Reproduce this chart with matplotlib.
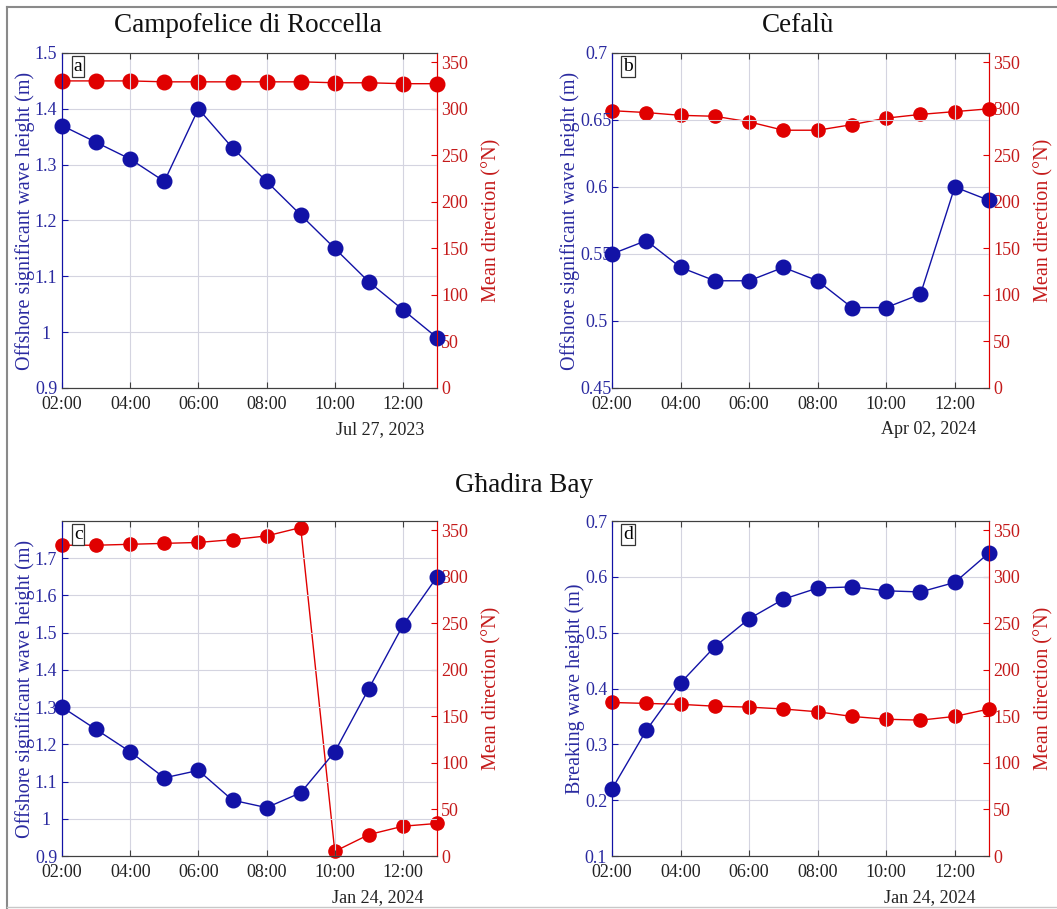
import numpy as np
import pandas as pd
import matplotlib
matplotlib.use("Agg")
import matplotlib.pyplot as plt
import matplotlib.dates as mdates
from matplotlib.lines import Line2D

plt.rcParams['font.family'] = ['Liberation Serif', 'DejaVu Serif']

# hourly time stamps (same for all panels)
hours = ['02:00', '03:00', '04:00', '05:00', '06:00', '07:00',
         '08:00', '09:00', '10:00', '11:00', '12:00', '13:00']

# panel a - Campofelice di Roccella, Jul 27, 2023
date_a = '2023-07-27'
hs_a = [1.37, 1.34, 1.31, 1.27, 1.40, 1.33, 1.27, 1.21, 1.15, 1.09, 1.04, 0.99]
dir_a = [330, 330, 330, 329, 329, 329, 329, 329, 328, 328, 327, 327]

# panel b - Cefalù, Apr 02, 2024
date_b = '2024-04-02'
hs_b = [0.55, 0.56, 0.54, 0.53, 0.53, 0.54, 0.53, 0.51, 0.51, 0.52, 0.60, 0.59]
dir_b = [298, 296, 293, 292, 286, 277, 277, 283, 290, 294, 297, 300]

# panel c - Ghadira Bay offshore, Jan 24, 2024
date_c = '2024-01-24'
hs_c = [1.30, 1.24, 1.18, 1.11, 1.13, 1.05, 1.03, 1.07, 1.18, 1.35, 1.52, 1.65]
dir_c = [334, 334, 335, 336, 337, 340, 344, 353, 5, 23, 32, 35]

# panel d - Ghadira Bay breaking, Jan 24, 2024
date_d = '2024-01-24'
hb_d = [0.22, 0.325, 0.41, 0.475, 0.525, 0.56, 0.58, 0.582, 0.575, 0.573, 0.59, 0.643]
dir_d = [165, 164, 163, 161, 160, 158, 155, 150, 147, 146, 150, 158]

BLUE = '#1212a6'
RED = '#e00000'
BLUE_TXT = '#2a2aa0'
RED_TXT = '#c41a1a'
GRID = '#d4d4e0'
SPINE = '#404040'

fig = plt.figure(figsize=(10.57, 9.09), dpi=100)


def panel(rect, date, hs, dirs, ylim, yticks, ylabel, letter, date_label, red_ms=10):
    t = pd.to_datetime([f'{date} {h}' for h in hours])
    ax = fig.add_axes(rect)
    ax2 = ax.twinx()
    ax.set_zorder(ax2.get_zorder() + 1)
    ax.patch.set_visible(False)

    ax2.plot(t, dirs, '-o', color=RED, mfc=RED, mec=RED, ms=red_ms, lw=1, clip_on=False)
    ax.plot(t, hs, '-o', color=BLUE, mfc=BLUE, mec=BLUE, ms=10.5, lw=1, clip_on=False)

    ax.set_xlim(t[0], t[-1])
    ax.set_ylim(*ylim)
    ax.set_yticks(yticks)
    ax.set_yticklabels([f'{v:g}' for v in yticks])
    ax2.set_ylim(0, 360)
    ax2.set_yticks(range(0, 351, 50))

    ax.xaxis.set_major_locator(mdates.HourLocator(byhour=range(2, 13, 2)))
    ax.xaxis.set_major_formatter(mdates.DateFormatter('%H:%M'))

    ax.grid(True, color=GRID, lw=0.8)
    ax.set_axisbelow(True)

    for a in (ax, ax2):
        a.spines['top'].set_color(SPINE)
        a.spines['bottom'].set_color(SPINE)
        a.spines['left'].set_color(BLUE)
        a.spines['right'].set_color(RED)
    ax.tick_params(axis='x', direction='in', length=4, colors=SPINE,
                   labelcolor='#222222', labelsize=13, pad=6, top=True)
    ax.tick_params(axis='y', direction='in', length=4, colors=BLUE,
                   labelcolor=BLUE_TXT, labelsize=13, pad=11.5)
    for lab in ax.get_yticklabels():
        lab.set_horizontalalignment('center')
    ax2.tick_params(axis='y', direction='in', length=4, colors=RED,
                    labelcolor=RED_TXT, labelsize=13, pad=3)

    ax.set_ylabel(ylabel, color=BLUE_TXT, fontsize=14.5, labelpad=0)
    ax2.set_ylabel('Mean direction (°N)', color=RED_TXT, fontsize=14.5, labelpad=10)

    ax.text(0.043, 0.961, letter, transform=ax.transAxes, fontsize=14,
            va='center', ha='center',
            bbox=dict(boxstyle='square,pad=0.1', fc='white', ec='#333333', lw=0.9))
    ax.text(0.965, -0.1, date_label, transform=ax.transAxes, fontsize=13,
            ha='right', va='top', color='#222222')
    return ax


panel([0.0587, 0.5732, 0.3548, 0.3685], date_a, hs_a, dir_a, (0.9, 1.5),
      np.round(np.arange(0.9, 1.51, 0.1), 2),
      'Offshore significant wave height (m)', 'a', 'Jul 27, 2023', red_ms=10.5)
panel([0.579, 0.5732, 0.3567, 0.3685], date_b, hs_b, dir_b, (0.45, 0.7),
      np.round(np.arange(0.45, 0.701, 0.05), 2),
      'Offshore significant wave height (m)', 'b', 'Apr 02, 2024', red_ms=9.5)
panel([0.0587, 0.0583, 0.3548, 0.3685], date_c, hs_c, dir_c, (0.9, 1.8),
      np.round(np.arange(0.9, 1.71, 0.1), 2),
      'Offshore significant wave height (m)', 'c', 'Jan 24, 2024', red_ms=9.5)
panel([0.579, 0.0583, 0.3567, 0.3685], date_d, hb_d, dir_d, (0.1, 0.7),
      np.round(np.arange(0.1, 0.71, 0.1), 2),
      'Breaking wave height (m)', 'd', 'Jan 24, 2024', red_ms=9.5)

fig.text(248 / 1057, 1 - 25 / 909, 'Campofelice di Roccella', fontsize=19.5,
         ha='center', va='center', color='#111111')
fig.text(798 / 1057, 1 - 25 / 909, 'Cefalù', fontsize=19.5,
         ha='center', va='center', color='#111111')
fig.text(524 / 1057, 1 - 486 / 909, 'Għadira Bay', fontsize=19.5,
         ha='center', va='center', color='#111111')

# thin grey frame around the figure (left, top, bottom)
fig.add_artist(Line2D([7 / 1057, 7 / 1057], [0, 1 - 7 / 909], transform=fig.transFigure,
                      color='#8a8a8a', lw=1.5))
fig.add_artist(Line2D([7 / 1057, 1], [1 - 7 / 909, 1 - 7 / 909], transform=fig.transFigure,
                      color='#8a8a8a', lw=1.5))
fig.add_artist(Line2D([7 / 1057, 1], [2 / 909, 2 / 909], transform=fig.transFigure,
                      color='#c8c8c8', lw=1.0))

fig.savefig('out.png', dpi=100)
